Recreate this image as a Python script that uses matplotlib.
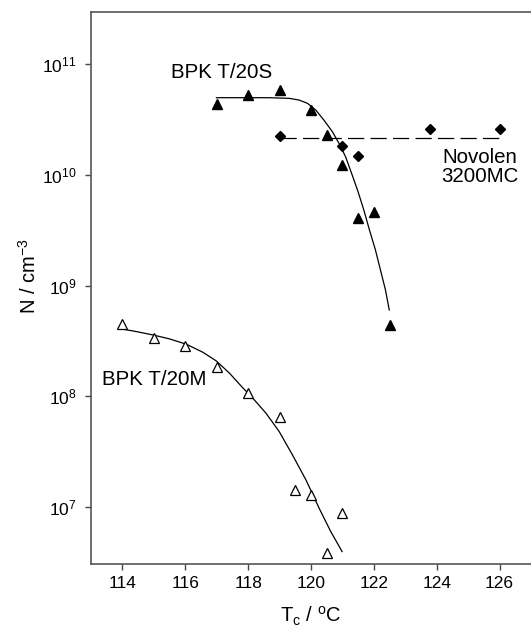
import matplotlib
matplotlib.use("Agg")
import matplotlib.pyplot as plt

plt.rcParams['font.family'] = ['Liberation Sans', 'DejaVu Sans']
plt.rcParams['mathtext.fontset'] = 'custom'
plt.rcParams['mathtext.rm'] = 'Liberation Sans'
plt.rcParams['mathtext.it'] = 'Liberation Sans'

# BPK T/20S (filled triangles)
t20s_T = [117, 118, 119, 120, 120.5, 121, 121.5, 122, 122.5]
t20s_N = [4.4e10, 5.25e10, 5.8e10, 3.85e10, 2.29e10, 1.22e10, 4.1e9, 4.6e9, 4.4e8]
# fitted curve, points
t20s_fit_T = [116.99, 118.67, 119.31, 119.62, 119.89, 120.15, 120.41, 120.68, 120.89,
              121.10, 121.31, 121.50, 121.68, 121.86, 122.05, 122.21, 122.37, 122.49]
t20s_fit_logN = [10.696, 10.696, 10.690, 10.675, 10.645, 10.585, 10.494, 10.389, 10.284,
                 10.163, 9.998, 9.845, 9.682, 9.501, 9.321, 9.140, 8.959, 8.779]

# BPK T/20M (open triangles)
t20m_T = [114, 115, 116, 117, 118, 119, 119.5, 120, 120.5, 121]
t20m_N = [4.48e8, 3.33e8, 2.82e8, 1.85e8, 1.07e8, 6.5e7, 1.41e7, 1.27e7, 3.85e6, 8.9e6]
t20m_fit_T = [113.87, 114.46, 114.98, 115.51, 116.04, 116.56, 116.99, 117.41, 117.80,
              118.15, 118.57, 118.99, 119.41, 119.84, 120.26, 120.63, 120.99]
t20m_fit_logN = [8.613, 8.583, 8.553, 8.517, 8.469, 8.397, 8.318, 8.207, 8.085,
                 7.982, 7.846, 7.680, 7.470, 7.244, 6.988, 6.777, 6.597]

# Novolen 3200MC (filled diamonds) and its mean level
nov_T = [119, 121, 121.5, 123.8, 126]
nov_N = [2.24e10, 1.82e10, 1.47e10, 2.57e10, 2.57e10]
nov_mean_T = [119, 126]
nov_mean_N = [2.13e10, 2.13e10]

x_ticks = [114, 116, 118, 120, 122, 124, 126]
y_ticks = [1e7, 1e8, 1e9, 1e10, 1e11]
y_ticklabels = [r'$\mathregular{10^{%d}}$' % e for e in [7, 8, 9, 10, 11]]

fig = plt.figure(figsize=(5.31, 6.28), dpi=100)
ax = fig.add_axes([0.1714, 0.1019, 0.8286, 0.8790])

ax.plot(t20s_fit_T, [10 ** v for v in t20s_fit_logN], color='black', lw=0.9)
ax.plot(t20m_fit_T, [10 ** v for v in t20m_fit_logN], color='black', lw=0.9)
ax.plot(nov_mean_T, nov_mean_N, color='black', lw=0.9, dashes=(13, 5))

ax.plot(t20s_T, t20s_N, ls='none', marker='^', ms=7.5, color='black')
ax.plot(t20m_T, t20m_N, ls='none', marker='^', ms=6.8, mfc='white', mec='black', mew=0.9)
ax.plot(nov_T, nov_N, ls='none', marker='D', ms=5.6, color='black')

ax.set_yscale('log')
ax.set_xlim(113, 127)
ax.set_ylim(10 ** 6.485, 10 ** 11.47)
ax.set_xticks(x_ticks)
ax.set_xticklabels([str(t) for t in x_ticks])
ax.set_yticks(y_ticks)
ax.set_yticklabels(y_ticklabels)
ax.yaxis.set_minor_locator(matplotlib.ticker.NullLocator())
ax.tick_params(direction='out', length=4.5, width=1, color='#444444', labelsize=12.5)
ax.tick_params(axis='x', pad=4)
ax.tick_params(axis='y', pad=6)

for s in ['left', 'bottom', 'top']:
    ax.spines[s].set_color('#555555')
    ax.spines[s].set_linewidth(1.2)
ax.spines['right'].set_visible(False)

ax.set_xlabel(r'$\mathregular{T_c\ /\ ^oC}$', fontsize=14.5, labelpad=10)
ax.set_ylabel(r'$\mathregular{N\ /\ cm^{-3}}$', fontsize=14.5)
ax.yaxis.set_label_coords(-0.116, 0.522)

ax.text(117.15, 10 ** 10.92, 'BPK T/20S', fontsize=14.8, ha='center', va='center')
ax.text(115, 10 ** 8.15, 'BPK T/20M', fontsize=14.8, ha='center', va='center')
ax.text(125.38, 10 ** 10.07, 'Novolen\n3200MC', fontsize=14.8, ha='center', va='center',
        linespacing=1.05)

fig.savefig('out.png', dpi=100)
